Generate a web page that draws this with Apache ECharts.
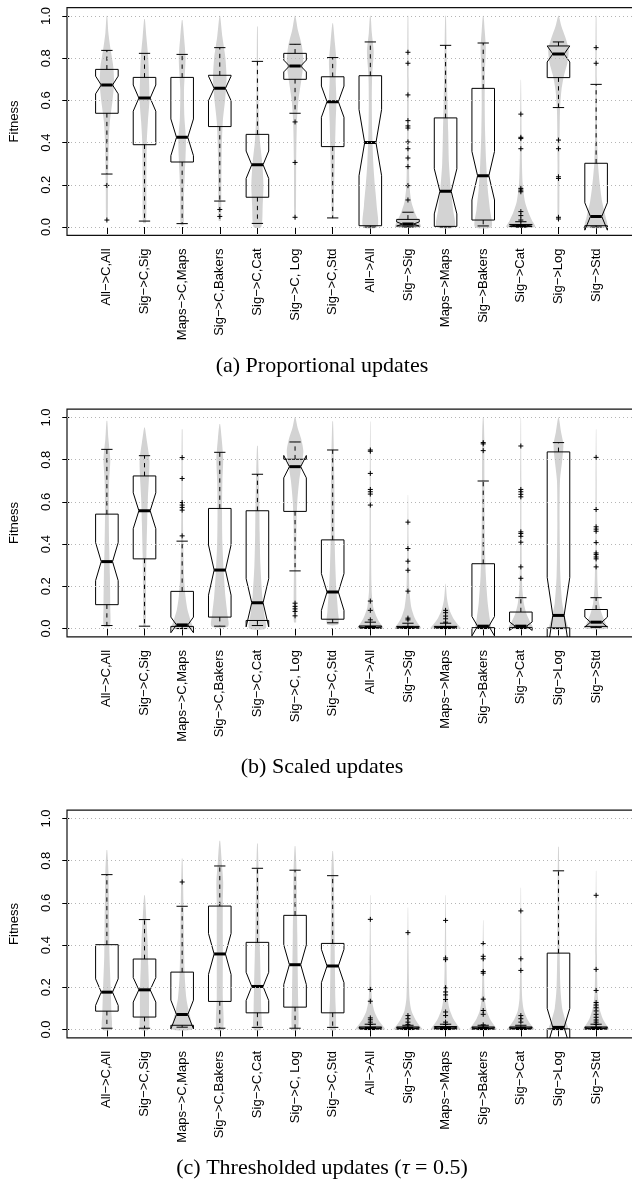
<!DOCTYPE html>
<html>
<head>
<meta charset="utf-8">
<script src="https://cdn.jsdelivr.net/npm/echarts@6/dist/echarts.min.js"></script>
<style>
html, body { margin: 0; padding: 0; background: #fff; }
#chart { width: 632px; height: 1180px; }
</style>
</head>
<body>
<div id="chart"></div>
<script>
// x axis categories
const categories = ['All\u2212>C,All', 'Sig\u2212>C,Sig', 'Maps\u2212>C,Maps', 'Sig\u2212>C,Bakers', 'Sig\u2212>C,Cat',
  'Sig\u2212>C, Log', 'Sig\u2212>C,Std', 'All\u2212>All', 'Sig\u2212>Sig', 'Maps\u2212>Maps', 'Sig\u2212>Bakers',
  'Sig\u2212>Cat', 'Sig\u2212>Log', 'Sig\u2212>Std'];
const yTicks = [0, 0.2, 0.4, 0.6, 0.8, 1.0];
const captions = ['(a) Proportional updates', '(b) Scaled updates', '(c) Thresholded updates ({t|\u03c4} = 0.5)'];

// (a) proportional updates
const propLo    = [0.251, 0.028, 0.016, 0.123, 0.017, 0.539, 0.043, 0.000, 0.000, 0.000, 0.005, 0.000, 0.566, 0.000];
const propQ1    = [0.539, 0.390, 0.308, 0.476, 0.141, 0.700, 0.381, 0.006, 0.005, 0.003, 0.033, 0.002, 0.708, 0.006];
const propMed   = [0.673, 0.611, 0.425, 0.657, 0.295, 0.763, 0.594, 0.400, 0.014, 0.169, 0.243, 0.006, 0.820, 0.050];
const propQ3    = [0.747, 0.709, 0.709, 0.719, 0.439, 0.823, 0.712, 0.717, 0.036, 0.517, 0.657, 0.012, 0.858, 0.302];
const propHi    = [0.837, 0.823, 0.818, 0.850, 0.785, 0.866, 0.803, 0.877, 0.070, 0.861, 0.872, 0.025, 0.877, 0.676];
const propNotch = [0.042, 0.062, 0.087, 0.058, 0.065, 0.028, 0.074, 0.157, 0.010, 0.107, 0.115, 0.004, 0.038, 0.065];
const propOut = [
  [0.197, 0.033], [], [], [0.083, 0.050], [], [0.498, 0.306, 0.046], [], [],
  [0.828, 0.776, 0.626, 0.504, 0.479, 0.469, 0.403, 0.371, 0.327, 0.286, 0.196, 0.128],
  [], [],
  [0.535, 0.425, 0.419, 0.371, 0.183, 0.175, 0.167, 0.073, 0.054, 0.033],
  [0.412, 0.371, 0.238, 0.230, 0.046, 0.038],
  [0.850, 0.776]
];
// violin outlines: [value, half width in category units]
const propViolin = [
  [[0.03, 0.02], [0.2, 0.03], [0.4, 0.05], [0.5, 0.08], [0.6, 0.15], [0.68, 0.19], [0.76, 0.17], [0.84, 0.1], [0.92, 0.04], [1.0, 0.01]],
  [[0.02, 0.04], [0.2, 0.05], [0.4, 0.06], [0.5, 0.09], [0.6, 0.13], [0.7, 0.12], [0.8, 0.1], [0.9, 0.05], [0.985, 0.01]],
  [[0.01, 0.04], [0.15, 0.05], [0.25, 0.07], [0.33, 0.09], [0.42, 0.1], [0.52, 0.06], [0.65, 0.05], [0.8, 0.09], [0.9, 0.05], [0.98, 0.01]],
  [[0.03, 0.03], [0.15, 0.04], [0.35, 0.05], [0.5, 0.08], [0.6, 0.14], [0.7, 0.18], [0.8, 0.15], [0.9, 0.07], [1.0, 0.01]],
  [[0.0, 0.1], [0.1, 0.14], [0.2, 0.16], [0.3, 0.13], [0.4, 0.07], [0.5, 0.04], [0.7, 0.02], [0.95, 0.01]],
  [[0.04, 0.02], [0.3, 0.03], [0.5, 0.05], [0.6, 0.09], [0.7, 0.17], [0.78, 0.22], [0.86, 0.18], [0.93, 0.08], [1.0, 0.01]],
  [[0.04, 0.02], [0.2, 0.04], [0.35, 0.06], [0.5, 0.08], [0.6, 0.1], [0.7, 0.08], [0.78, 0.1], [0.87, 0.06], [0.965, 0.01]],
  [[0.0, 0.19], [0.1, 0.17], [0.2, 0.12], [0.3, 0.08], [0.45, 0.05], [0.6, 0.04], [0.72, 0.05], [0.83, 0.09], [0.92, 0.04], [1.0, 0.01]],
  [[0.0, 0.34], [0.03, 0.28], [0.07, 0.18], [0.12, 0.09], [0.2, 0.04], [0.4, 0.025], [0.7, 0.02], [1.0, 0.01]],
  [[0.0, 0.24], [0.08, 0.2], [0.18, 0.14], [0.3, 0.09], [0.45, 0.07], [0.6, 0.05], [0.8, 0.03], [1.0, 0.01]],
  [[0.0, 0.22], [0.08, 0.18], [0.18, 0.12], [0.3, 0.08], [0.45, 0.05], [0.6, 0.04], [0.75, 0.05], [0.85, 0.07], [0.93, 0.04], [1.0, 0.01]],
  [[0.0, 0.38], [0.03, 0.3], [0.07, 0.2], [0.12, 0.11], [0.2, 0.05], [0.35, 0.025], [0.55, 0.015], [0.697, 0.005]],
  [[0.03, 0.02], [0.3, 0.025], [0.55, 0.04], [0.65, 0.08], [0.72, 0.15], [0.78, 0.24], [0.84, 0.27], [0.9, 0.18], [0.95, 0.08], [1.0, 0.01]],
  [[0.0, 0.29], [0.05, 0.25], [0.12, 0.16], [0.2, 0.1], [0.3, 0.05], [0.45, 0.025], [0.7, 0.02], [1.0, 0.01]]
];

// (b) scaled updates
const scaledLo    = [0.014, 0.011, 0.000, 0.011, 0.014, 0.273, 0.027, 0.000, 0.000, 0.000, 0.000, 0.000, 0.000, 0.005];
const scaledQ1    = [0.113, 0.330, 0.010, 0.054, 0.038, 0.555, 0.044, 0.002, 0.002, 0.002, 0.004, 0.004, 0.003, 0.010];
const scaledMed   = [0.317, 0.558, 0.017, 0.277, 0.122, 0.767, 0.173, 0.005, 0.005, 0.005, 0.011, 0.011, 0.062, 0.030];
const scaledQ3    = [0.542, 0.723, 0.176, 0.569, 0.558, 0.802, 0.420, 0.012, 0.010, 0.010, 0.307, 0.078, 0.837, 0.090];
const scaledHi    = [0.849, 0.819, 0.414, 0.835, 0.731, 0.884, 0.846, 0.030, 0.025, 0.025, 0.699, 0.146, 0.881, 0.146];
const scaledNotch = [0.090, 0.085, 0.037, 0.119, 0.114, 0.053, 0.087, 0.003, 0.003, 0.003, 0.046, 0.020, 0.180, 0.024];
const scaledOut = [
  [], [],
  [0.810, 0.711, 0.597, 0.585, 0.574, 0.561, 0.439],
  [], [],
  [0.120, 0.105, 0.093, 0.081, 0.060],
  [],
  [0.846, 0.840, 0.735, 0.659, 0.648, 0.637, 0.585, 0.130, 0.086, 0.041],
  [0.504, 0.379, 0.319, 0.276, 0.177, 0.049, 0.041],
  [0.086, 0.075, 0.059, 0.046, 0.030],
  [0.881, 0.875, 0.843],
  [0.865, 0.659, 0.648, 0.636, 0.624, 0.458, 0.450, 0.437, 0.409, 0.292, 0.238],
  [],
  [0.811, 0.564, 0.482, 0.471, 0.461, 0.407, 0.358, 0.350, 0.339, 0.330, 0.292]
];
const scaledViolin = [
  [[0.01, 0.08], [0.1, 0.09], [0.25, 0.08], [0.4, 0.06], [0.55, 0.05], [0.7, 0.06], [0.8, 0.09], [0.9, 0.04], [0.984, 0.01]],
  [[0.01, 0.03], [0.2, 0.04], [0.35, 0.05], [0.5, 0.07], [0.62, 0.09], [0.72, 0.12], [0.8, 0.13], [0.88, 0.07], [0.952, 0.01]],
  [[0.0, 0.27], [0.04, 0.22], [0.09, 0.14], [0.15, 0.09], [0.25, 0.05], [0.4, 0.03], [0.6, 0.02], [0.944, 0.01]],
  [[0.01, 0.22], [0.07, 0.2], [0.15, 0.15], [0.25, 0.11], [0.4, 0.07], [0.55, 0.06], [0.7, 0.07], [0.8, 0.09], [0.9, 0.05], [0.968, 0.01]],
  [[0.0, 0.22], [0.07, 0.18], [0.15, 0.13], [0.3, 0.08], [0.45, 0.06], [0.6, 0.05], [0.75, 0.03], [0.865, 0.01]],
  [[0.03, 0.03], [0.3, 0.03], [0.5, 0.04], [0.6, 0.06], [0.7, 0.11], [0.77, 0.17], [0.84, 0.22], [0.9, 0.16], [0.95, 0.07], [1.0, 0.01]],
  [[0.02, 0.15], [0.08, 0.14], [0.18, 0.1], [0.3, 0.07], [0.45, 0.05], [0.6, 0.05], [0.8, 0.035], [0.981, 0.01]],
  [[0.0, 0.34], [0.02, 0.28], [0.05, 0.18], [0.1, 0.08], [0.18, 0.035], [0.4, 0.02], [0.7, 0.015], [0.981, 0.005]],
  [[0.0, 0.35], [0.02, 0.28], [0.05, 0.18], [0.1, 0.09], [0.18, 0.04], [0.35, 0.02], [0.632, 0.005]],
  [[0.0, 0.4], [0.02, 0.32], [0.05, 0.2], [0.09, 0.1], [0.14, 0.04], [0.212, 0.005]],
  [[0.0, 0.2], [0.05, 0.17], [0.12, 0.12], [0.25, 0.07], [0.4, 0.045], [0.6, 0.035], [0.8, 0.03], [0.9, 0.03], [1.0, 0.01]],
  [[0.0, 0.32], [0.03, 0.25], [0.07, 0.15], [0.12, 0.08], [0.2, 0.035], [0.4, 0.02], [0.7, 0.015], [1.0, 0.005]],
  [[0.0, 0.24], [0.05, 0.18], [0.12, 0.1], [0.25, 0.05], [0.5, 0.03], [0.7, 0.04], [0.8, 0.1], [0.87, 0.13], [0.93, 0.07], [1.0, 0.01]],
  [[0.0, 0.29], [0.03, 0.24], [0.07, 0.15], [0.12, 0.08], [0.2, 0.04], [0.4, 0.02], [0.7, 0.015], [0.944, 0.005]]
];

// (c) thresholded updates
const threshLo    = [0.006, 0.006, 0.011, 0.006, 0.010, 0.006, 0.010, 0.000, 0.000, 0.000, 0.000, 0.000, 0.000, 0.000];
const threshQ1    = [0.087, 0.059, 0.020, 0.133, 0.079, 0.106, 0.079, 0.002, 0.002, 0.002, 0.002, 0.002, 0.003, 0.002];
const threshMed   = [0.177, 0.188, 0.071, 0.358, 0.204, 0.307, 0.301, 0.006, 0.006, 0.007, 0.006, 0.006, 0.010, 0.006];
const threshQ3    = [0.402, 0.334, 0.272, 0.585, 0.413, 0.541, 0.408, 0.012, 0.012, 0.014, 0.012, 0.012, 0.362, 0.012];
const threshHi    = [0.734, 0.521, 0.584, 0.775, 0.764, 0.755, 0.729, 0.025, 0.020, 0.025, 0.020, 0.020, 0.752, 0.025];
const threshNotch = [0.063, 0.058, 0.068, 0.097, 0.067, 0.094, 0.079, 0.003, 0.003, 0.003, 0.003, 0.003, 0.090, 0.003];
const threshOut = [
  [], [], [0.699], [], [], [], [],
  [0.522, 0.190, 0.134, 0.055, 0.046, 0.035, 0.024],
  [0.459, 0.066, 0.051, 0.035, 0.024],
  [0.517, 0.339, 0.331, 0.198, 0.178, 0.164, 0.142, 0.083, 0.066, 0.035, 0.024],
  [0.407, 0.347, 0.335, 0.275, 0.267, 0.144, 0.090, 0.072, 0.022],
  [0.562, 0.335, 0.280, 0.066, 0.051, 0.035],
  [],
  [0.636, 0.285, 0.185, 0.128, 0.116, 0.103, 0.088, 0.072, 0.058, 0.045, 0.035, 0.024]
];
const threshViolin = [
  [[0.0, 0.12], [0.08, 0.12], [0.2, 0.1], [0.35, 0.07], [0.5, 0.06], [0.65, 0.05], [0.75, 0.04], [0.85, 0.01]],
  [[0.0, 0.11], [0.08, 0.12], [0.18, 0.12], [0.3, 0.1], [0.42, 0.08], [0.52, 0.05], [0.636, 0.01]],
  [[0.0, 0.26], [0.04, 0.24], [0.09, 0.17], [0.15, 0.11], [0.25, 0.07], [0.4, 0.05], [0.6, 0.035], [0.81, 0.01]],
  [[0.0, 0.09], [0.15, 0.08], [0.3, 0.08], [0.45, 0.08], [0.6, 0.08], [0.7, 0.09], [0.8, 0.05], [0.894, 0.01]],
  [[0.0, 0.1], [0.1, 0.1], [0.2, 0.09], [0.35, 0.07], [0.5, 0.05], [0.7, 0.035], [0.881, 0.01]],
  [[0.0, 0.08], [0.15, 0.08], [0.3, 0.07], [0.45, 0.06], [0.6, 0.05], [0.75, 0.04], [0.869, 0.01]],
  [[0.0, 0.08], [0.15, 0.07], [0.3, 0.06], [0.45, 0.05], [0.6, 0.04], [0.75, 0.035], [0.845, 0.01]],
  [[0.0, 0.39], [0.02, 0.32], [0.05, 0.2], [0.09, 0.1], [0.15, 0.04], [0.3, 0.02], [0.636, 0.005]],
  [[0.0, 0.38], [0.02, 0.3], [0.05, 0.19], [0.09, 0.09], [0.15, 0.04], [0.3, 0.02], [0.578, 0.005]],
  [[0.0, 0.39], [0.02, 0.32], [0.05, 0.21], [0.1, 0.1], [0.17, 0.045], [0.3, 0.025], [0.636, 0.005]],
  [[0.0, 0.36], [0.02, 0.29], [0.05, 0.18], [0.09, 0.09], [0.15, 0.04], [0.3, 0.02], [0.517, 0.005]],
  [[0.0, 0.36], [0.02, 0.28], [0.05, 0.17], [0.09, 0.08], [0.15, 0.035], [0.3, 0.02], [0.672, 0.005]],
  [[0.0, 0.25], [0.04, 0.19], [0.1, 0.1], [0.2, 0.05], [0.4, 0.03], [0.6, 0.025], [0.866, 0.01]],
  [[0.0, 0.34], [0.02, 0.28], [0.05, 0.18], [0.1, 0.09], [0.17, 0.04], [0.35, 0.02], [0.752, 0.005]]
];

const panels = [
  { lo: propLo, q1: propQ1, med: propMed, q3: propQ3, hi: propHi, notch: propNotch, out: propOut, violin: propViolin },
  { lo: scaledLo, q1: scaledQ1, med: scaledMed, q3: scaledQ3, hi: scaledHi, notch: scaledNotch, out: scaledOut, violin: scaledViolin },
  { lo: threshLo, q1: threshQ1, med: threshMed, q3: threshQ3, hi: threshHi, notch: threshNotch, out: threshOut, violin: threshViolin }
];

// layout
const panelTop = [16, 417.5, 818.5];   // pixel y of value 1.0
const span = 211;                      // pixels from 1.0 to 0.0
const BOX_W = 0.3;
const PLUS = 2.5;
const FONT = '"Liberation Sans", Arial, sans-serif';
const SERIF = '"Liberation Serif", "Times New Roman", serif';

function seg(a, b) { return { x1: a[0], y1: a[1], x2: b[0], y2: b[1] }; }

function violinSeries(k, shapes) {
  return {
    type: 'custom', xAxisIndex: k, yAxisIndex: k, z: 2, clip: true, silent: true,
    data: shapes.map((s, i) => [i + 1]),
    renderItem: function (params, api) {
      const i = params.dataIndex, x = i + 1, pts = shapes[i];
      const right = pts.map(p => api.coord([x + p[1], p[0]]));
      const left = pts.slice().reverse().map(p => api.coord([x - p[1], p[0]]));
      return {
        type: 'polygon',
        shape: { points: right.concat(left), smooth: 0.25 },
        style: { fill: '#d3d3d3', stroke: null }
      };
    }
  };
}

function boxSeries(k, d) {
  return {
    type: 'custom', xAxisIndex: k, yAxisIndex: k, z: 3, clip: true, silent: true,
    data: d.med.map((m, i) => [i + 1, m]),
    renderItem: function (params, api) {
      const i = params.dataIndex, x = i + 1, w = BOX_W;
      const c = (dx, v) => api.coord([x + dx, v]);
      const q1 = d.q1[i], md = d.med[i], q3 = d.q3[i];
      const nLo = md - d.notch[i], nHi = md + d.notch[i];
      const ink = { stroke: '#000', lineWidth: 1 };
      const dash = { stroke: '#000', lineWidth: 1, lineDash: [4.3, 4.3] };
      const kids = [
        { type: 'line', shape: seg(c(0, q3), c(0, d.hi[i])), style: dash },
        { type: 'line', shape: seg(c(0, q1), c(0, d.lo[i])), style: dash },
        { type: 'line', shape: seg(c(-w / 2, d.hi[i]), c(w / 2, d.hi[i])), style: ink },
        { type: 'line', shape: seg(c(-w / 2, d.lo[i]), c(w / 2, d.lo[i])), style: ink },
        {
          type: 'polygon',
          shape: { points: [c(-w, q1), c(w, q1), c(w, nLo), c(w / 2, md), c(w, nHi), c(w, q3),
            c(-w, q3), c(-w, nHi), c(-w / 2, md), c(-w, nLo)] },
          style: { stroke: '#000', lineWidth: 1, fill: 'none' }
        },
        { type: 'line', shape: seg(c(-w / 2, md), c(w / 2, md)), style: { stroke: '#000', lineWidth: 3 } }
      ];
      d.out[i].forEach(v => {
        const p = c(0, v);
        kids.push({ type: 'line', shape: { x1: p[0] - PLUS, y1: p[1], x2: p[0] + PLUS, y2: p[1] }, style: ink });
        kids.push({ type: 'line', shape: { x1: p[0], y1: p[1] - PLUS, x2: p[0], y2: p[1] + PLUS }, style: ink });
      });
      return { type: 'group', children: kids };
    }
  };
}

const chart = echarts.init(document.getElementById('chart'), null, { renderer: 'canvas' });

const grids = [], xAxes = [], yAxes = [], series = [], graphics = [];
panels.forEach((d, k) => {
  grids.push({
    left: 67, width: 569, top: panelTop[k] - 0.04 * span, height: 1.08 * span,
    show: true, borderColor: '#111', borderWidth: 1.2, backgroundColor: 'transparent',
    outerBoundsMode: 'none', containLabel: false
  });
  xAxes.push({
    type: 'value', gridIndex: k, min: -0.06, max: 15.06,
    axisLine: { show: false },
    axisTick: { show: true, length: 7, customValues: categories.map((c, i) => i + 1), lineStyle: { color: '#000' } },
    axisLabel: {
      show: true, customValues: categories.map((c, i) => i + 1), rotate: 90, margin: 13,
      fontSize: 13, fontFamily: FONT, color: '#000',
      formatter: v => categories[Math.round(v) - 1]
    },
    splitLine: { show: false }
  });
  yAxes.push({
    type: 'value', gridIndex: k, min: -0.04, max: 1.04,
    name: 'Fitness', nameLocation: 'middle', nameGap: 46, nameMoveOverlap: false,
    nameTextStyle: { fontSize: 13, fontFamily: FONT, color: '#000' },
    axisLine: { show: false },
    axisTick: { show: true, length: 7, customValues: yTicks, lineStyle: { color: '#000' } },
    axisLabel: {
      show: true, customValues: yTicks, rotate: 90, margin: 14,
      fontSize: 13, fontFamily: FONT, color: '#000',
      formatter: v => v.toFixed(1)
    },
    splitLine: { show: false }
  });
  // dotted reference lines
  series.push({
    type: 'scatter', xAxisIndex: k, yAxisIndex: k, z: 1, silent: true,
    symbolSize: 0, data: [[-1, -1]],
    markLine: {
      silent: true, symbol: ['none', 'none'], label: { show: false }, animation: false,
      lineStyle: { color: '#b5b5b5', type: [1, 3], width: 1 },
      data: yTicks.map(v => ({ yAxis: v }))
    }
  });
  series.push(violinSeries(k, d.violin));
  series.push(boxSeries(k, d));
  graphics.push({
    type: 'text', x: 322, y: panelTop[k] + 350,
    style: {
      text: captions[k], font: '22px ' + SERIF, fill: '#000',
      textAlign: 'center', textVerticalAlign: 'middle',
      rich: { t: { font: 'italic 22px ' + SERIF } }
    }
  });
});

chart.setOption({
  animation: false,
  backgroundColor: '#fff',
  textStyle: { fontFamily: FONT },
  grid: grids,
  xAxis: xAxes,
  yAxis: yAxes,
  series: series,
  graphic: graphics
});
</script>
</body>
</html>
